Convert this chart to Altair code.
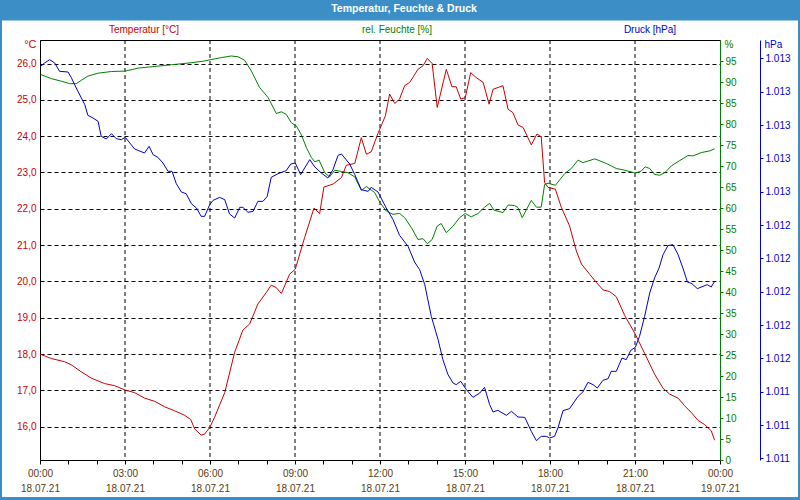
import altair as alt
import pandas as pd

# ---------------- data ----------------
T_HOURS = [0.0, 0.4, 0.87, 1.1, 1.46, 1.81, 2.28, 2.64, 3.01, 3.34, 3.69, 4.05, 4.4, 4.75, 5.1, 5.32, 5.46,
           5.69, 5.81, 5.99, 6.16, 6.52, 6.87, 7.16, 7.4, 7.69, 7.99, 8.16, 8.34, 8.52, 8.81, 9.01, 9.34,
           9.67, 9.87, 10.02, 10.34, 10.64, 10.81, 11.11, 11.34, 11.52, 11.69, 11.93, 12.19, 12.34, 12.52,
           12.69, 12.87, 13.05, 13.34, 13.52, 13.67, 13.84, 14.02, 14.34, 14.54, 14.69, 14.85, 15.01, 15.2,
           15.4, 15.64, 15.85, 15.99, 16.34, 16.52, 16.69, 16.87, 17.05, 17.34, 17.54, 17.69, 17.81, 17.93,
           18.19, 18.4, 18.69, 18.93, 19.11, 19.4, 19.64, 19.87, 20.11, 20.34, 20.64, 21.01, 21.34, 21.69,
           21.99, 22.22, 22.52, 22.75, 22.99, 23.22, 23.46, 23.69, 23.81]
T_VALUES = [18.0, 17.88, 17.79, 17.71, 17.51, 17.34, 17.19, 17.13, 17.01, 16.94, 16.79, 16.70, 16.55, 16.44,
            16.32, 16.2, 15.94, 15.77, 15.8, 15.98, 16.26, 16.94, 18.05, 18.66, 18.83, 19.38, 19.70, 19.9,
            19.83, 19.67, 20.2, 20.34, 21.21, 22.02, 21.87, 22.6, 22.68, 22.86, 23.2, 23.25, 23.96, 23.5,
            23.57, 24.08, 24.56, 25.16, 24.9, 25.02, 25.39, 25.48, 25.84, 25.94, 26.14, 26.0, 24.79, 25.84,
            25.36, 25.36, 25.02, 25.06, 25.75, 25.61, 25.48, 24.88, 25.29, 25.39, 24.74, 24.65, 24.31, 24.24,
            23.76, 24.06, 23.98, 22.72, 22.59, 22.54, 22.04, 21.53, 20.84, 20.48, 20.2, 19.97, 19.77, 19.72,
            19.58, 19.06, 18.55, 18.02, 17.45, 17.06, 16.9, 16.79, 16.58, 16.39, 16.18, 16.06, 15.89, 15.63]

H_HOURS = [0.02, 0.4, 0.75, 1.05, 1.28, 1.46, 1.69, 2.05, 2.52, 3.01, 3.46, 4.05, 4.64, 5.22, 5.81, 6.0, 6.4,
           6.75, 6.99, 7.22, 7.46, 7.75, 8.05, 8.34, 8.52, 8.69, 8.87, 9.05, 9.22, 9.4, 9.58, 9.7, 9.85,
           10.05, 10.22, 10.4, 10.64, 10.87, 11.11, 11.34, 11.52, 11.81, 12.0, 12.22, 12.46, 12.69, 12.87,
           13.11, 13.34, 13.52, 13.67, 13.84, 14.02, 14.16, 14.34, 14.58, 14.81, 15.01, 15.22, 15.46, 15.69,
           15.87, 16.02, 16.34, 16.52, 16.75, 16.87, 17.02, 17.34, 17.52, 17.69, 17.81, 17.93, 18.19, 18.52,
           18.75, 18.99, 19.16, 19.58, 19.99, 20.34, 20.64, 21.01, 21.22, 21.36, 21.52, 21.69, 21.87, 22.05,
           22.28, 22.58, 22.87, 23.05, 23.34, 23.64, 23.81]
H_VALUES = [91.8, 90.8, 90.2, 89.6, 89.6, 90.4, 91.4, 92.1, 92.5, 92.6, 93.3, 93.7, 94.1, 94.5, 95.0, 95.3,
            95.8, 96.2, 96.0, 95.2, 92.6, 88.7, 86.3, 82.5, 82.9, 82.3, 80.3, 79.5, 77.5, 74.4, 72.0, 71.0,
            71.4, 68.4, 67.4, 69.0, 68.7, 68.4, 67.4, 64.2, 65.1, 63.7, 61.3, 59.3, 58.5, 58.7, 57.7, 55.3,
            52.5, 52.7, 51.5, 52.5, 55.7, 56.3, 54.1, 55.7, 57.7, 58.7, 57.9, 58.7, 60.2, 61.1, 59.5, 58.9,
            60.7, 60.6, 60.1, 57.7, 61.8, 60.2, 60.2, 65.6, 65.9, 65.4, 68.2, 69.4, 71.4, 70.8, 71.7, 70.6,
            69.4, 69.0, 68.3, 68.8, 69.8, 69.4, 68.0, 67.8, 68.4, 70.0, 71.3, 72.5, 72.4, 73.2, 73.6, 74.1]

P_HOURS = [0.02, 0.16, 0.34, 0.52, 0.69, 0.99, 1.1, 1.28, 1.46, 1.58, 1.69, 1.87, 2.05, 2.16, 2.34, 2.52,
           2.69, 2.87, 3.01, 3.34, 3.69, 3.85, 3.99, 4.16, 4.34, 4.52, 4.66, 4.81, 4.99, 5.16, 5.34, 5.52,
           5.69, 5.81, 5.99, 6.11, 6.34, 6.52, 6.69, 6.87, 7.05, 7.16, 7.34, 7.52, 7.69, 7.87, 8.02, 8.16,
           8.4, 8.69, 8.85, 9.01, 9.2, 9.34, 9.52, 9.7, 9.93, 10.16, 10.34, 10.52, 10.64, 10.93, 11.11, 11.34,
           11.58, 11.69, 11.93, 12.22, 12.46, 12.69, 12.99, 13.22, 13.4, 13.58, 13.81, 14.05, 14.22, 14.4,
           14.58, 14.69, 14.85, 15.05, 15.28, 15.52, 15.69, 15.87, 15.99, 16.16, 16.46, 16.64, 16.87, 17.11,
           17.34, 17.52, 17.69, 17.87, 17.99, 18.16, 18.28, 18.46, 18.69, 18.99, 19.16, 19.34, 19.52, 19.67,
           19.87, 20.05, 20.16, 20.34, 20.54, 20.69, 20.85, 21.01, 21.16, 21.34, 21.52, 21.69, 21.85, 21.99,
           22.16, 22.34, 22.52, 22.69, 22.85, 23.01, 23.2, 23.4, 23.55, 23.69, 23.81]
P_VALUES = [1013.352, 1013.372, 1013.392, 1013.372, 1013.322, 1013.318, 1013.286, 1013.222, 1013.162,
            1013.122, 1013.058, 1013.042, 1013.022, 1012.932, 1012.916, 1012.948, 1012.918, 1012.912,
            1012.926, 1012.856, 1012.832, 1012.872, 1012.822, 1012.806, 1012.772, 1012.722, 1012.722,
            1012.648, 1012.598, 1012.588, 1012.528, 1012.502, 1012.452, 1012.452, 1012.522, 1012.548,
            1012.566, 1012.552, 1012.466, 1012.442, 1012.506, 1012.506, 1012.476, 1012.482, 1012.542,
            1012.542, 1012.572, 1012.686, 1012.708, 1012.726, 1012.766, 1012.772, 1012.702, 1012.742,
            1012.792, 1012.748, 1012.712, 1012.682, 1012.732, 1012.818, 1012.826, 1012.766, 1012.702,
            1012.612, 1012.602, 1012.626, 1012.598, 1012.502, 1012.432, 1012.338, 1012.272, 1012.178,
            1012.132, 1012.042, 1011.852, 1011.712, 1011.592, 1011.502, 1011.452, 1011.442, 1011.462,
            1011.412, 1011.366, 1011.392, 1011.426, 1011.322, 1011.278, 1011.288, 1011.258, 1011.282,
            1011.248, 1011.246, 1011.162, 1011.106, 1011.132, 1011.132, 1011.122, 1011.132, 1011.182,
            1011.286, 1011.298, 1011.372, 1011.398, 1011.456, 1011.442, 1011.422, 1011.468, 1011.478,
            1011.522, 1011.522, 1011.602, 1011.592, 1011.648, 1011.666, 1011.732, 1011.852, 1011.992,
            1012.082, 1012.142, 1012.222, 1012.276, 1012.282, 1012.222, 1012.142, 1012.058, 1012.048,
            1012.018, 1012.032, 1012.042, 1012.028, 1012.062]

GRID_HOURS = [3, 6, 9, 12, 15, 18, 21]
HOUR_TICKS = list(range(25))
TEMP_TICKS = [16, 17, 18, 19, 20, 21, 22, 23, 24, 25, 26]
HUM_TICKS = list(range(0, 100, 5))
PRES_TICKS = [1011.0, 1011.2, 1011.4, 1011.6, 1011.8, 1012.0, 1012.2, 1012.4, 1012.6, 1012.8, 1013.0,
              1013.2, 1013.4]
DATES = ["18.07.21", "19.07.21"]
TITLE = "Temperatur, Feuchte & Druck"
SERIES_LABELS = ["Temperatur [°C]", "rel. Feuchte [%]", "Druck [hPa]"]

# ---------------- style ----------------
RED = "#cc0000"
GREEN = "#008000"
BLUE = "#0000cc"
BAND = "#3c8fc6"
XLAB = "#5a3a10"
FONT = "Liberation Sans"
FS = 10

W, H = 680, 420

x_label_expr = (
    "datum.value % 3 == 0 ? [(datum.value % 24 < 10 ? '0' : '') + (datum.value % 24) + ':00', "
    f"datum.value < 24 ? '{DATES[0]}' : '{DATES[1]}'] : ''"
)

x_enc = alt.X(
    "h:Q",
    scale=alt.Scale(domain=[0, 24], nice=False, zero=False),
    axis=alt.Axis(
        values=HOUR_TICKS, labelExpr=x_label_expr, title=None, grid=False,
        domainColor="black", tickColor="black", tickSize=4, labelColor=XLAB,
        labelFont=FONT, labelFontSize=FS, labelLineHeight=15, labelPadding=4,
        labelOverlap=False, labelFlush=False, labelBaseline="top",
    ),
)

t_df = pd.DataFrame({"h": T_HOURS, "v": T_VALUES})
h_df = pd.DataFrame({"h": H_HOURS, "v": H_VALUES})
p_df = pd.DataFrame({"h": P_HOURS, "v": P_VALUES})
g_df = pd.DataFrame({"h": GRID_HOURS})
one = pd.DataFrame({"k": [0]})

vgrid = alt.Chart(g_df).mark_rule(color="black", strokeDash=[4, 3], strokeWidth=1).encode(x=x_enc)

temp = alt.Chart(t_df).mark_line(color=RED, strokeWidth=1).encode(
    x=x_enc,
    y=alt.Y("v:Q", scale=alt.Scale(domain=[15.086, 26.647], nice=False, zero=False),
            axis=alt.Axis(orient="left", values=TEMP_TICKS, grid=True, gridColor="black",
                          gridDash=[4, 3], gridOpacity=1, gridWidth=1, tickSize=0,
                          domainColor="black", labelColor=RED, labelFont=FONT, labelFontSize=FS,
                          labelPadding=4, labelFlush=False, labelOverlap=False,
                          labelExpr="replace(format(datum.value, '.1f'), '.', ',')",
                          title="°C", titleAngle=0, titleX=-4, titleY=4, titleAlign="right",
                          titleBaseline="middle", titleColor=RED, titleFont=FONT,
                          titleFontSize=FS + 1, titleFontWeight="normal")),
)

hum = alt.Chart(h_df).mark_line(color=GREEN, strokeWidth=1).encode(
    x=x_enc,
    y=alt.Y("v:Q", scale=alt.Scale(domain=[0, 100], nice=False, zero=False),
            axis=alt.Axis(orient="right", values=HUM_TICKS, grid=False, tickSize=3,
                          tickColor=GREEN, domainColor=GREEN, labelColor=GREEN, labelFont=FONT,
                          labelFontSize=FS, labelPadding=2, labelFlush=False, labelOverlap=False,
                          format="d",
                          title="%", titleAngle=0, titleX=4, titleY=4, titleAlign="left",
                          titleBaseline="middle", titleColor=GREEN, titleFont=FONT,
                          titleFontSize=FS, titleFontWeight="normal")),
)

pres = alt.Chart(p_df).mark_line(color=BLUE, strokeWidth=1).encode(
    x=x_enc,
    y=alt.Y("v:Q", scale=alt.Scale(domain=[1010.99, 1013.51], nice=False, zero=False),
            axis=alt.Axis(orient="right", offset=40, values=PRES_TICKS, grid=False, tickSize=3,
                          tickColor=BLUE, domainColor=BLUE, labelColor=BLUE, labelFont=FONT,
                          labelFontSize=FS, labelPadding=2, labelFlush=False, labelOverlap=False,
                          labelExpr="replace(format(datum.value, ',.0f'), ',', '.')",
                          title="hPa", titleAngle=0, titleX=4, titleY=4, titleAlign="left",
                          titleBaseline="middle", titleColor=BLUE, titleFont=FONT,
                          titleFontSize=FS, titleFontWeight="normal")),
)

band = alt.Chart(one).mark_rect(color=BAND).encode(
    x=alt.value(-40), x2=alt.value(760), y=alt.value(-40), y2=alt.value(-19.5))
left_border = alt.Chart(one).mark_rect(color=BAND).encode(
    x=alt.value(-40), x2=alt.value(-38), y=alt.value(-40), y2=alt.value(460))
right_border = alt.Chart(one).mark_rect(color=BAND).encode(
    x=alt.value(758), x2=alt.value(760), y=alt.value(-40), y2=alt.value(460))
bottom_border = alt.Chart(one).mark_rect(color=BAND).encode(
    x=alt.value(-40), x2=alt.value(760), y=alt.value(457), y2=alt.value(460))

title_txt = alt.Chart(one).mark_text(
    text=TITLE, color="white", font=FONT, fontSize=10.5, fontWeight="bold", align="center",
    baseline="middle").encode(x=alt.value(364), y=alt.value(-31))

lab_t = alt.Chart(one).mark_text(text=SERIES_LABELS[0], color=RED, font=FONT, fontSize=FS,
                                 align="center", baseline="middle").encode(x=alt.value(104), y=alt.value(-10))
lab_h = alt.Chart(one).mark_text(text=SERIES_LABELS[1], color=GREEN, font=FONT, fontSize=FS,
                                 align="center", baseline="middle").encode(x=alt.value(357), y=alt.value(-10))
lab_p = alt.Chart(one).mark_text(text=SERIES_LABELS[2], color=BLUE, font=FONT, fontSize=FS,
                                 align="center", baseline="middle").encode(x=alt.value(610), y=alt.value(-10))

chart = alt.layer(
    vgrid, temp, hum, pres, band, left_border, right_border, bottom_border,
    title_txt, lab_t, lab_h, lab_p,
).resolve_scale(y="independent").properties(
    width=W, height=H,
    padding={"left": 40, "top": 40, "right": 80, "bottom": 40},
    autosize=alt.AutoSizeParams(type="none"),
    background="white",
).configure_view(stroke="black", strokeWidth=1)

chart.save("out.html", embed_options={"renderer": "svg", "actions": False})
